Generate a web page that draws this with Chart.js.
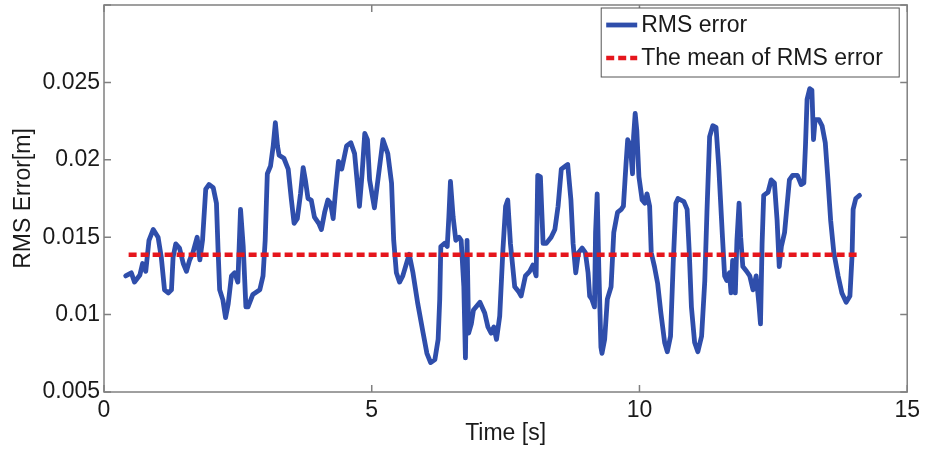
<!DOCTYPE html>
<html>
<head>
<meta charset="utf-8">
<script src="https://cdn.jsdelivr.net/npm/chart.js@4.4.1/dist/chart.umd.min.js"></script>
<style>
  html, body { margin: 0; padding: 0; background: #fff; }
</style>
</head>
<body>
<canvas id="rmsChart" width="925" height="451"></canvas>
<script>
// Values
const timeSec = [
  0.405, 0.51, 0.57, 0.67, 0.72, 0.78, 0.84, 0.92, 1.01, 1.07, 1.13, 1.20, 1.26, 1.29, 1.34, 1.41,
  1.48, 1.54, 1.60, 1.66, 1.74, 1.79, 1.84, 1.90, 1.96, 2.04, 2.10, 2.13, 2.16, 2.22, 2.27, 2.32,
  2.38, 2.44, 2.50, 2.55, 2.60, 2.65, 2.69, 2.78, 2.91, 2.97, 3.01, 3.05, 3.11, 3.16, 3.20, 3.24,
  3.27, 3.36, 3.44, 3.50, 3.55, 3.61, 3.67, 3.72, 3.76, 3.81, 3.87, 3.93, 4.01, 4.06, 4.12, 4.18,
  4.23, 4.28, 4.32, 4.38, 4.44, 4.53, 4.61, 4.68, 4.77, 4.82, 4.87, 4.92, 4.96, 5.05, 5.21, 5.30,
  5.37, 5.41, 5.46, 5.52, 5.58, 5.70, 5.77, 5.86, 5.96, 6.03, 6.10, 6.18, 6.24, 6.27, 6.29, 6.36,
  6.41, 6.44, 6.47, 6.52, 6.57, 6.63, 6.67, 6.72, 6.75, 6.78, 6.81, 6.86, 6.90, 7.02, 7.11, 7.17,
  7.23, 7.28, 7.33, 7.39, 7.45, 7.50, 7.54, 7.59, 7.67, 7.74, 7.79, 7.87, 7.95, 8.01, 8.07, 8.10,
  8.15, 8.20, 8.26, 8.35, 8.42, 8.48, 8.54, 8.62, 8.66, 8.72, 8.76, 8.81, 8.86, 8.93, 8.99, 9.04,
  9.07, 9.11, 9.16, 9.18, 9.21, 9.24, 9.28, 9.30, 9.35, 9.40, 9.47, 9.52, 9.59, 9.66, 9.70, 9.75,
  9.78, 9.83, 9.87, 9.89, 9.92, 9.95, 9.99, 10.05, 10.10, 10.14, 10.19, 10.22, 10.28, 10.34, 10.40, 10.47,
  10.52, 10.58, 10.63, 10.68, 10.72, 10.83, 10.89, 10.93, 10.97, 11.03, 11.09, 11.16, 11.22, 11.26, 11.31, 11.37,
  11.43, 11.48, 11.55, 11.59, 11.63, 11.68, 11.71, 11.74, 11.79, 11.82, 11.86, 11.89, 11.93, 12.00, 12.06, 12.12,
  12.18, 12.23, 12.26, 12.29, 12.32, 12.40, 12.46, 12.52, 12.57, 12.61, 12.65, 12.71, 12.76, 12.80, 12.86, 12.95,
  13.02, 13.07, 13.10, 13.13, 13.18, 13.22, 13.25, 13.28, 13.35, 13.41, 13.47, 13.52, 13.57, 13.63, 13.71, 13.78,
  13.86, 13.93, 13.97, 13.99, 14.04, 14.11
];
const rmsError = [
  0.0125, 0.0127, 0.0121, 0.01256, 0.0133, 0.0128, 0.0148, 0.0155, 0.0150, 0.0137, 0.0116, 0.0114, 0.0116, 0.0137, 0.01457, 0.0143,
  0.0133, 0.0128, 0.01353, 0.0140, 0.0150, 0.01353, 0.0148, 0.0181, 0.0184, 0.0182, 0.0172, 0.0142, 0.0116, 0.01095, 0.0098, 0.0107,
  0.0125, 0.0127, 0.0121, 0.0168, 0.0144, 0.0105, 0.0105, 0.0113, 0.0116, 0.0125, 0.0148, 0.0191, 0.0196, 0.0209, 0.0224, 0.0209,
  0.0203, 0.0201, 0.0194, 0.0174, 0.0159, 0.0162, 0.0178, 0.0195, 0.0187, 0.0175, 0.0174, 0.0163, 0.0159, 0.0155, 0.0166, 0.0174,
  0.0172, 0.0162, 0.0178, 0.0199, 0.0194, 0.0209, 0.0211, 0.0204, 0.0170, 0.0191, 0.0217, 0.0213, 0.0187, 0.0169, 0.0213, 0.0204,
  0.0185, 0.0148, 0.0127, 0.0121, 0.0125, 0.0139, 0.0127, 0.0107, 0.0088, 0.0075, 0.0069, 0.0071, 0.0084, 0.0110, 0.0144, 0.0146,
  0.0144, 0.0163, 0.0186, 0.0163, 0.0148, 0.0150, 0.0148, 0.0118, 0.0072, 0.0148, 0.0088, 0.0094, 0.0103, 0.0108, 0.0101, 0.0092,
  0.0088, 0.0092, 0.0084, 0.0099, 0.0142, 0.0170, 0.0174, 0.0146, 0.0118, 0.0115, 0.0112, 0.0125, 0.0128, 0.0132, 0.0125, 0.0190,
  0.0189, 0.0146, 0.0146, 0.0150, 0.0155, 0.0170, 0.0194, 0.0196, 0.0197, 0.0174, 0.0146, 0.0127, 0.0140, 0.0143, 0.0140, 0.0127,
  0.0112, 0.0110, 0.0105, 0.0153, 0.0178, 0.0131, 0.0079, 0.0075, 0.0084, 0.0110, 0.0118, 0.0153, 0.0166, 0.0168, 0.0170, 0.0198,
  0.0213, 0.0209, 0.0191, 0.0215, 0.0230, 0.0219, 0.0189, 0.0174, 0.0172, 0.0178, 0.0170, 0.0140, 0.0131, 0.0120, 0.0101, 0.0082,
  0.0076, 0.0086, 0.0133, 0.0172, 0.0175, 0.0173, 0.0168, 0.0140, 0.0105, 0.0082, 0.0076, 0.0086, 0.0122, 0.0166, 0.0215, 0.0222,
  0.0221, 0.0196, 0.0150, 0.0125, 0.0122, 0.0127, 0.0114, 0.0135, 0.0114, 0.0148, 0.0172, 0.0150, 0.0131, 0.0128, 0.0125, 0.0116,
  0.0125, 0.0107, 0.0094, 0.0146, 0.0177, 0.0179, 0.0187, 0.0185, 0.0161, 0.0131, 0.0144, 0.0153, 0.0172, 0.0187, 0.0190, 0.0190,
  0.0184, 0.0185, 0.0209, 0.0239, 0.0246, 0.0245, 0.0213, 0.0226, 0.0226, 0.0222, 0.0211, 0.0187, 0.0161, 0.0140, 0.0125, 0.0114,
  0.0108, 0.0112, 0.0138, 0.0168, 0.0175, 0.0177
];
const meanTime = [0.46, 14.09];
const meanRms = [0.01386, 0.01386];
const xTicks = [0, 5, 10, 15];
const yTicks = [0.005, 0.01, 0.015, 0.02, 0.025, 0.03];
const yTickLabels = ["0.005", "0.01", "0.015", "0.02", "0.025"];
const seriesLabels = ["RMS error", "The mean of RMS error"];

const textColor = "#1a1a1a";
const font = { family: "'Liberation Sans', Arial, sans-serif", size: 23 };

// MATLAB style box, inward ticks and legend
const axesBox = {
  id: "axesBox",
  afterDatasetsDraw(chart) {
    const { ctx, chartArea: a, scales: { x, y } } = chart;
    ctx.save();
    ctx.strokeStyle = "#808080";
    ctx.lineWidth = 1.5;
    ctx.strokeRect(a.left, a.top, a.right - a.left, a.bottom - a.top);
    ctx.beginPath();
    for (const v of xTicks) {
      const px = x.getPixelForValue(v);
      ctx.moveTo(px, a.bottom); ctx.lineTo(px, a.bottom - 7);
      ctx.moveTo(px, a.top); ctx.lineTo(px, a.top + 7);
    }
    for (const v of yTicks) {
      const py = y.getPixelForValue(v);
      ctx.moveTo(a.left, py); ctx.lineTo(a.left + 7, py);
      ctx.moveTo(a.right, py); ctx.lineTo(a.right - 7, py);
    }
    ctx.stroke();

    // legend box
    const bx = a.right - 306, by = a.top + 3, bw = 298, bh = 69;
    ctx.fillStyle = "#fff";
    ctx.fillRect(bx, by, bw, bh);
    ctx.strokeStyle = "#555";
    ctx.lineWidth = 1;
    ctx.strokeRect(bx, by, bw, bh);
    ctx.font = `${font.size}px ${font.family}`;
    ctx.textBaseline = "middle";
    ctx.textAlign = "left";
    chart.data.datasets.forEach((ds, i) => {
      const ry = by + 17 + i * 33;
      ctx.strokeStyle = ds.borderColor;
      ctx.lineWidth = ds.borderWidth;
      ctx.setLineDash(ds.borderDash || []);
      ctx.beginPath();
      ctx.moveTo(bx + 5, ry); ctx.lineTo(bx + 36, ry);
      ctx.stroke();
      ctx.setLineDash([]);
      ctx.fillStyle = textColor;
      ctx.fillText(ds.label, bx + 40, ry + 1);
    });
    ctx.restore();
  }
};

new Chart(document.getElementById("rmsChart"), {
  type: "line",
  data: {
    datasets: [
      {
        label: seriesLabels[0],
        data: timeSec.map((t, i) => ({ x: t, y: rmsError[i] })),
        borderColor: "#2f4eab",
        borderWidth: 4.8,
        borderJoinStyle: "round",
        borderCapStyle: "round",
        pointRadius: 0,
        tension: 0,
        order: 1
      },
      {
        label: seriesLabels[1],
        data: meanTime.map((t, i) => ({ x: t, y: meanRms[i] })),
        borderColor: "#e5161d",
        borderWidth: 4.5,
        borderDash: [8, 4],
        pointRadius: 0,
        order: 0
      }
    ]
  },
  options: {
    responsive: false,
    animation: false,
    devicePixelRatio: 1,
    layout: { padding: { top: 5, right: 17, left: 0, bottom: 0 } },
    plugins: { legend: { display: false }, tooltip: { enabled: false } },
    scales: {
      x: {
        type: "linear", min: 0, max: 15,
        afterBuildTicks: s => { s.ticks = xTicks.map(v => ({ value: v })); },
        afterFit: s => { s.height = 59; },
        grid: { display: false, drawTicks: false },
        border: { display: false },
        ticks: { color: textColor, font, padding: 5, maxRotation: 0 },
        title: { display: true, text: "Time [s]", color: textColor, font, padding: { top: 0, bottom: 4 } }
      },
      y: {
        type: "linear", min: 0.005, max: 0.03,
        // labelled ticks only; the unlabelled 0.03 mark is drawn by axesBox
        afterBuildTicks: s => { s.ticks = yTicks.slice(0, yTickLabels.length).map(v => ({ value: v })); },
        afterFit: s => { s.width = 104; s.paddingTop = 0; },
        grid: { display: false, drawTicks: false },
        border: { display: false },
        ticks: {
          color: textColor, font, padding: 4,
          callback: (v, i) => yTickLabels[i]
        },
        title: { display: true, text: "RMS Error[m]", color: textColor, font, padding: { top: 10, bottom: 0 } }
      }
    }
  },
  plugins: [axesBox]
});
</script>
</body>
</html>
